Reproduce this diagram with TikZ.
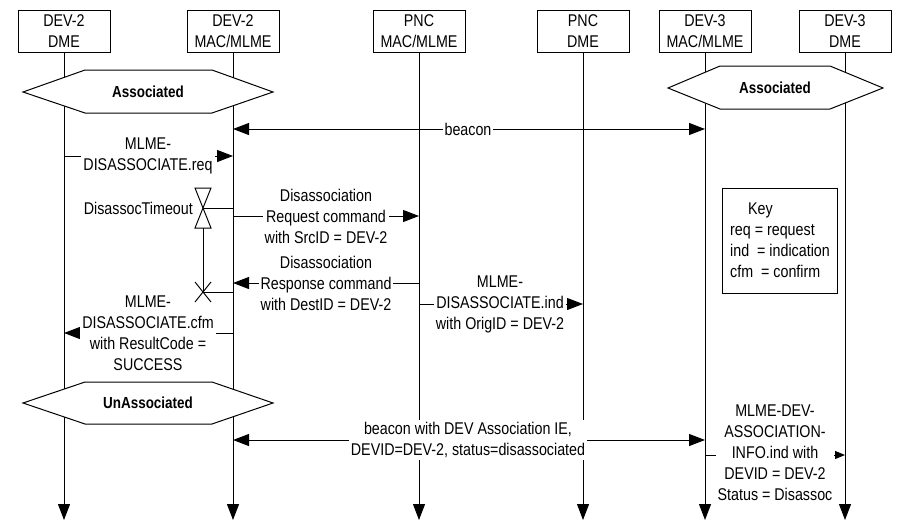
\documentclass[tikz,border=0pt]{standalone}
\usepackage{fontspec}
\setmainfont[FakeStretch=0.84]{Liberation Sans}
\usetikzlibrary{arrows.meta}
\begin{document}
\begin{tikzpicture}[x=1pt,y=-1pt,
  every node/.style={font=\fontsize{17}{21}\selectfont, align=center, inner sep=1pt},
  hbox/.style={draw, line width=1pt, minimum width=92pt, minimum height=42pt, inner sep=0pt},
  life/.style={line width=1pt, -{Triangle[length=16pt,width=12pt]}},
  msg/.style={line width=1pt, -{Triangle[length=16pt,width=12pt]}},
  smsg/.style={line width=1pt, -{Triangle[length=10pt,width=8pt]}},
  bmsg/.style={line width=1pt, {Triangle[length=16pt,width=12pt]}-{Triangle[length=16pt,width=12pt]}},
  lbl/.style={fill=white, inner sep=2pt},
  hex/.style={draw, fill=white, line width=1pt},
  hexlbl/.style={font=\fontsize{16}{20}\selectfont\bfseries},
  thin/.style={line width=1pt}
]
\useasboundingbox (0,0) rectangle (899,522);

% heads
\node[hbox] (h1) at (64,31) {DEV-2\\DME};
\node[hbox] (h2) at (233,31) {DEV-2\\MAC/MLME};
\node[hbox] (h3) at (419,31) {PNC\\MAC/MLME};
\node[hbox] (h4) at (583,31) {PNC\\DME};
\node[hbox] (h5) at (705,31) {DEV-3\\MAC/MLME};
\node[hbox] (h6) at (845,31) {DEV-3\\DME};

% lifelines
\foreach \n in {h1,h2,h3,h4,h5,h6}{
  \coordinate (\n end) at (\n.south |- 0,520);
  \draw[life] (\n.south) -- (\n end);
}

% messages
\draw[bmsg] (h2.south |- 0,129) -- (h5.south |- 0,129);
\node[lbl] (lbeacon) at (468,129) {beacon};

\draw[msg] (h1.south |- 0,156) -- (h2.south |- 0,156);
\node[lbl] (lreq) at (148,156) {MLME-\\DISASSOCIATE.req};

\draw[msg] (h2.south |- 0,216) -- (h3.south |- 0,216);
\node[lbl] (lreqcmd) at (326,216) {Disassociation\\Request command\\with SrcID = DEV-2};

\draw[msg] (h3.south |- 0,283) -- (h2.south |- 0,283);
\node[lbl] (lrspcmd) at (326,283) {Disassociation\\Response command\\with DestID = DEV-2};

\draw[msg] (h3.south |- 0,304) -- (h4.south |- 0,304);
\node[lbl] (lind) at (500,304) {MLME-\\DISASSOCIATE.ind\\with OrigID = DEV-2};

\draw[msg] (h2.south |- 0,333) -- (h1.south |- 0,333);
\node[lbl] (lcfm) at (148,333) {MLME-\\DISASSOCIATE.cfm\\with ResultCode =\\SUCCESS};

\draw[bmsg] (h2.south |- 0,440) -- (h5.south |- 0,440);
\node[lbl] (lbeacon2) at (468,440) {beacon with DEV Association IE,\\DEVID=DEV-2, status=disassociated};

\draw[smsg] (h5.south |- 0,455) -- (h6.south |- 0,455);
\node[lbl] (linfo) at (775,453) {MLME-DEV-\\ASSOCIATION-\\INFO.ind with\\DEVID = DEV-2\\Status = Disassoc};

% hexagons
\draw[hex] (23,92) -- (85,70) -- (212,70) -- (273,92) -- (212,113) -- (85,113) -- cycle;
\node[hexlbl] (assoc1) at (148,92) {Associated};
\draw[hex] (668,88) -- (720,66) -- (830,66) -- (883,88) -- (830,109) -- (720,109) -- cycle;
\node[hexlbl] (assoc2) at (775,88) {Associated};
\draw[hex] (23,403) -- (85,382) -- (212,382) -- (273,403) -- (212,424) -- (85,424) -- cycle;
\node[hexlbl] (unassoc) at (148,403) {UnAssociated};

% timer
\coordinate (tmid) at (203,208);
\coordinate (tx) at (203,292);
\draw[thin] (tmid) -- (h2.south |- tmid);
\draw[thin, fill=white] (195,188) -- (211,188) -- (tmid) -- cycle;
\draw[thin, fill=white] (195,228) -- (211,228) -- (tmid) -- cycle;
\draw[thin] (203,228) -- (tx);
\draw[thin] (195,282) -- (211,302);
\draw[thin] (195,302) -- (211,282);
\draw[thin] (tx) -- (h2.south |- tx);
\node[anchor=east] (ltimer) at (194,208) {DisassocTimeout};

% key
\node[draw, line width=1pt, minimum width=115pt, minimum height=105pt, anchor=north west, inner sep=0pt] (key) at (722,188) {};
\node[anchor=west, align=left] (keytxt) at (729,240) {\hspace*{18pt}Key\\req = request\\ind\ \ = indication\\cfm\ \ = confirm};
\end{tikzpicture}
\end{document}
